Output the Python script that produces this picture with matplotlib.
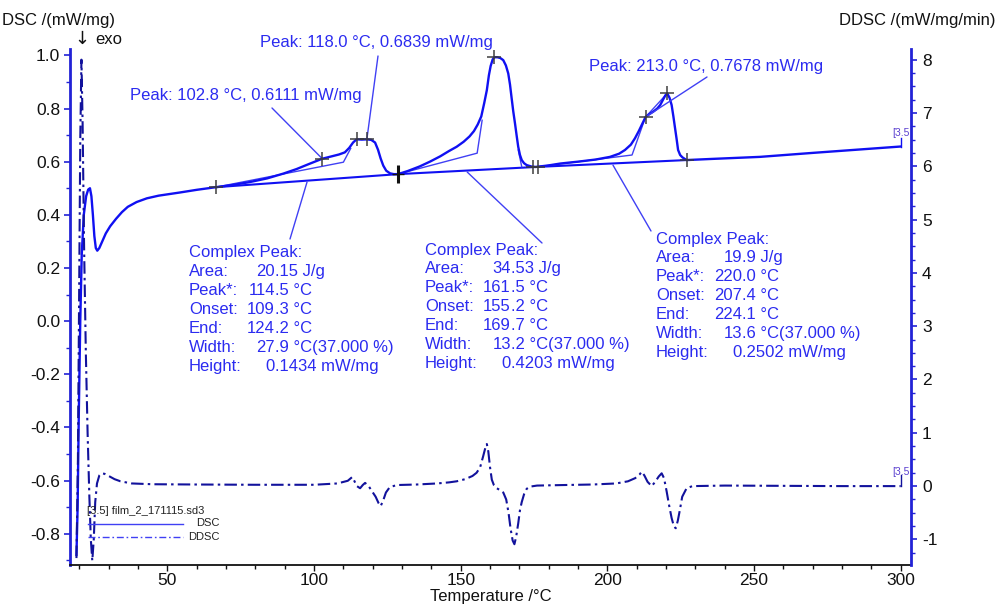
import matplotlib
matplotlib.use("Agg")
import matplotlib.pyplot as plt
from matplotlib.lines import Line2D
from matplotlib.ticker import MultipleLocator, FuncFormatter

plt.rcParams['font.family'] = ['Liberation Sans', 'DejaVu Sans']

# ---- measured curves -------------------------------------------------------
dsc_temp = [19.0, 19.4, 19.8, 20.3, 20.8, 21.5, 22.3, 23.0, 23.6, 24.1, 24.6, 25.1,
            25.6, 26.1, 26.8, 27.8, 29.0, 30.5, 32.5, 34.5, 36.5, 39.5, 43.0, 47.0,
            54.3, 60.0, 66.6, 72.0, 78.0, 84.0, 89.5, 94.0, 98.0, 102.8, 106.0, 108.5,
            110.5, 112.0, 113.3, 114.5, 116.3, 118.0, 119.5, 120.8, 121.8, 122.7, 123.6,
            124.6, 125.9, 127.2, 128.6, 132.0, 136.0, 139.5, 143.0, 146.0, 148.6, 151.0,
            153.0, 154.5, 155.8, 157.0, 158.0, 158.9, 159.6, 160.2, 160.9, 161.5, 162.5,
            163.5, 164.5, 165.4, 166.2, 166.8, 167.3, 167.9, 168.5, 169.1, 169.6, 170.2,
            170.8, 171.6, 172.5, 174.0, 175.6, 180.0, 184.0, 190.0, 196.0, 200.9, 204.0,
            206.0, 208.0, 209.4, 210.7, 211.7, 213.0, 214.3, 215.6, 217.0, 218.0, 219.0,
            219.8, 220.4, 221.2, 221.9, 222.5, 223.0, 223.6, 224.1, 224.8, 225.6, 227.0,
            235.0, 252.0, 270.0, 285.0, 300.0]
dsc_value = [-0.88, -0.70, -0.35, 0.00, 0.25, 0.40, 0.47, 0.495, 0.50, 0.47, 0.40, 0.32,
             0.275, 0.265, 0.275, 0.30, 0.33, 0.357, 0.385, 0.41, 0.43, 0.448, 0.462, 0.472,
             0.484, 0.494, 0.504, 0.512, 0.523, 0.537, 0.555, 0.572, 0.59, 0.6111, 0.62, 0.627,
             0.635, 0.652, 0.672, 0.684, 0.683, 0.6839, 0.682, 0.672, 0.645, 0.612, 0.585,
             0.566, 0.556, 0.553, 0.553, 0.565, 0.582, 0.60, 0.62, 0.64, 0.656, 0.675,
             0.695, 0.715, 0.74, 0.77, 0.82, 0.869, 0.925, 0.960, 0.985, 0.993, 0.993,
             0.99, 0.982, 0.962, 0.932, 0.89, 0.844, 0.79, 0.744, 0.695, 0.656, 0.625,
             0.606, 0.594, 0.587, 0.582, 0.58, 0.586, 0.593, 0.600, 0.608, 0.618, 0.63,
             0.644, 0.664, 0.688, 0.715, 0.738, 0.7678, 0.779, 0.788, 0.80, 0.813, 0.834,
             0.850, 0.857, 0.84, 0.813, 0.77, 0.731, 0.685, 0.644, 0.625, 0.616, 0.606,
             0.61, 0.618, 0.633, 0.645, 0.657]

ddsc_temp = [19.0, 19.5, 19.9, 20.3, 20.7, 21.1, 21.6, 22.2, 22.8, 23.4, 23.9, 24.4,
             24.9, 25.4, 26.0, 26.8, 27.6, 28.6, 30.0, 32.0, 34.0, 37.8, 45.0, 60.0,
             80.0, 100.0, 108.0, 111.5, 113.0, 113.7, 114.6, 115.7, 116.6, 117.4, 118.6,
             119.8, 121.0, 122.0, 122.7, 123.5, 124.5, 125.8, 128.2, 135.0, 142.0, 146.0,
             148.6, 151.5, 154.0, 155.4, 156.6, 157.6, 158.4, 158.9, 159.4, 160.0, 160.6,
             161.3, 162.3, 163.5, 164.5, 165.5, 166.3, 167.0, 167.7, 168.3, 168.9, 169.6,
             170.2, 170.8, 171.6, 172.5, 173.6, 176.0, 185.0, 195.0, 203.0, 207.0, 209.5,
             211.0, 211.7, 212.6, 213.7, 215.1, 216.3, 217.5, 218.5, 219.3, 220.2, 221.0,
             221.9, 222.7, 223.3, 224.0, 224.7, 225.5, 227.0, 229.0, 240.0, 260.0, 280.0,
             300.0]
ddsc_value = [-1.35, 0.5, 3.5, 6.5, 8.0, 6.8, 4.5, 2.5, 1.0, -0.2, -1.0, -1.4,
              -1.0, -0.3, 0.05, 0.2, 0.24, 0.23, 0.19, 0.13, 0.09, 0.05, 0.035, 0.03,
              0.025, 0.025, 0.05, 0.10, 0.17, 0.10, 0.0, -0.04, 0.02, 0.06, 0.0,
              -0.1, -0.2, -0.32, -0.375, -0.28, -0.12, -0.02, 0.02, 0.03, 0.05, 0.07,
              0.09, 0.13, 0.19, 0.25, 0.35, 0.55, 0.72, 0.79, 0.65, 0.35, 0.12,
              0.02, -0.04, -0.08, -0.12, -0.25, -0.5, -0.8, -1.02, -1.09, -0.95, -0.7,
              -0.45, -0.3, -0.15, -0.05, -0.01, 0.01, 0.02, 0.03, 0.05, 0.09, 0.15,
              0.22, 0.27, 0.2, 0.08, 0.0, 0.08, 0.18, 0.24, 0.15, -0.1, -0.35,
              -0.6, -0.76, -0.79, -0.65, -0.45, -0.2, -0.04, 0.0, 0.01, 0.005, 0.0,
              0.0]

# integration baselines of the three complex peaks (start / end points)
baseline_temp = [66.6, 128.6, 175.6, 227.0]
baseline_value = [0.504, 0.553, 0.58, 0.606]

# partial-area construction lines
partial1_temp = [66.6, 110.0, 112.5]
partial1_value = [0.504, 0.598, 0.650]
partial2_temp = [128.6, 155.6, 157.3]
partial2_value = [0.553, 0.632, 0.756]
partial2_end_temp = [169.6, 170.8]
partial2_end_value = [0.644, 0.581]
partial3_temp = [175.6, 208.4, 213.0, 220.4]
partial3_value = [0.58, 0.625, 0.7678, 0.857]

# evaluation markers
marker_temp = [66.6, 102.8, 114.5, 118.0, 161.5, 174.6, 176.5, 213.0, 220.4, 227.0]
marker_value = [0.504, 0.6111, 0.684, 0.6839, 0.993, 0.58, 0.581, 0.7678, 0.857, 0.606]
split_temp = [128.6]
split_value = [0.553]

# single-peak results
peak_temp = [102.8, 118.0, 213.0]
peak_value = [0.6111, 0.6839, 0.7678]

# complex-peak results
cp_area = ['20.15', '34.53', '19.9']
cp_peak = ['114.5', '161.5', '220.0']
cp_onset = ['109.3', '155.2', '207.4']
cp_end = ['124.2', '169.7', '224.1']
cp_width = ['27.9', '13.2', '13.6']
cp_height = ['0.1434', '0.4203', '0.2502']
cp_leader_temp = [97.6, 152.2, 201.9]
cp_leader_value = [0.523, 0.561, 0.587]

x_ticks = [50, 100, 150, 200, 250, 300]

# ---- styling ---------------------------------------------------------------
W, H = 997, 606
DSC_C = '#1010f2'
DDSC_C = '#12129c'
THIN_C = '#4040f4'
TEXT_C = '#2b2bf0'
SPINE_C = '#2222d6'


def fpx(x, y):
    """figure pixel (from top-left) -> figure fraction"""
    return x / W, 1 - y / H


fig = plt.figure(figsize=(W / 100, H / 100), dpi=100)
ax = fig.add_axes([70 / W, 1 - 565 / H, (911 - 70) / W, (565 - 49) / H])
ax2 = ax.twinx()

ax.set_xlim(16.8, 303.5)
ax.set_ylim(-0.918, 1.024)
ax2.set_ylim(-1.48, 8.2)

for a in (ax, ax2):
    a.spines['top'].set_visible(False)
    a.patch.set_visible(False)
ax.spines['right'].set_visible(False)
ax2.spines['left'].set_visible(False)
ax2.spines['bottom'].set_visible(False)
ax.spines['left'].set_color(SPINE_C)
ax.spines['left'].set_linewidth(2.0)
ax2.spines['right'].set_color(SPINE_C)
ax2.spines['right'].set_linewidth(2.0)
ax.spines['bottom'].set_color('#111111')
ax.spines['bottom'].set_linewidth(1.3)

ax.set_xticks(x_ticks)
ax.xaxis.set_minor_locator(MultipleLocator(10))
ax.yaxis.set_major_locator(MultipleLocator(0.2))
ax.yaxis.set_minor_locator(MultipleLocator(0.1))
ax.yaxis.set_major_formatter(FuncFormatter(lambda v, p: f'{v:.1f}'))
ax2.yaxis.set_major_locator(MultipleLocator(1))
ax2.yaxis.set_minor_locator(MultipleLocator(0.25))
ax2.yaxis.set_major_formatter(FuncFormatter(lambda v, p: f'{v:.0f}'))

ax.tick_params(axis='x', which='both', direction='out', colors='#111111',
               labelsize=12.5, pad=2)
ax.tick_params(axis='x', which='major', length=4, width=1)
ax.tick_params(axis='x', which='minor', length=3, width=1)
ax.tick_params(axis='y', which='both', direction='out', color=SPINE_C,
               labelcolor='#111111', labelsize=12.5, pad=3)
ax.tick_params(axis='y', which='major', length=4, width=1.2)
ax.tick_params(axis='y', which='minor', length=3, width=1)
ax2.tick_params(axis='y', which='both', direction='out', color=SPINE_C,
                labelcolor='#111111', labelsize=12.5, pad=4)
ax2.tick_params(axis='y', which='major', length=4, width=1.2)
ax2.tick_params(axis='y', which='minor', length=3, width=1)

# ---- curves ----------------------------------------------------------------
ax2.plot(ddsc_temp, ddsc_value, color=DDSC_C, lw=1.5, dashes=(6, 2, 1.2, 2),
         zorder=2)
ax.plot(dsc_temp, dsc_value, color=DSC_C, lw=1.7, zorder=4, solid_joinstyle='round')

# baselines and construction lines
ax.plot(baseline_temp, baseline_value, color=DSC_C, lw=1.5, zorder=3)
for xt, yv in [(partial1_temp, partial1_value), (partial2_temp, partial2_value),
               (partial2_end_temp, partial2_end_value), (partial3_temp, partial3_value)]:
    ax.plot(xt, yv, color=THIN_C, lw=1.0, zorder=3)

# curve end brackets
ax.plot([dsc_temp[-1], dsc_temp[-1]], [dsc_value[-1], dsc_value[-1] + 0.033],
        color=DSC_C, lw=1.0)
ax2.plot([ddsc_temp[-1], ddsc_temp[-1]], [ddsc_value[-1], ddsc_value[-1] + 0.2],
         color=DDSC_C, lw=1.0)

ax.plot(marker_temp, marker_value, ls='none', marker='+', ms=10, mew=1.2,
        color='#3a3a3a', alpha=0.9, zorder=6)
ax.plot(split_temp, split_value, ls='none', marker='|', ms=13, mew=2.2,
        color='#111111', zorder=6)
ax.plot(split_temp, split_value, ls='none', marker='_', ms=8, mew=1.0,
        color='#111111', zorder=6)

# ---- peak labels -----------------------------------------------------------
peak_label_pos = [(130, 95), (260, 42), (589, 67)]
peak_leader_start = [(272, 108), (378, 56), (707, 77)]
for t, v, (lx, ly), (sx, sy) in zip(peak_temp, peak_value, peak_label_pos,
                                    peak_leader_start):
    fig.text(*fpx(lx, ly), f'Peak: {t:.1f} °C, {v:.4f} mW/mg', color=TEXT_C,
             fontsize=12, ha='left', va='center')
    ax.annotate('', xy=(t, v), xytext=fpx(sx, sy), textcoords='figure fraction',
                arrowprops=dict(arrowstyle='-', color=THIN_C, lw=1.0,
                                shrinkA=0, shrinkB=0), zorder=5)

# ---- complex-peak tables ---------------------------------------------------
block_pos = [(189, 253), (425, 250), (656, 239)]
block_leader_end = [(290, 239), (542, 243), (651, 231)]
row_h = 18.9
dec_off = 86
for i, (bx, by) in enumerate(block_pos):
    fig.text(*fpx(bx, by), 'Complex Peak:', color=TEXT_C, fontsize=12,
             ha='left', va='center')
    rows = [('Area:', cp_area[i], ' J/g'),
            ('Peak*:', cp_peak[i], ' °C'),
            ('Onset:', cp_onset[i], ' °C'),
            ('End:', cp_end[i], ' °C'),
            ('Width:', cp_width[i], ' °C(37.000 %)'),
            ('Height:', cp_height[i], ' mW/mg')]
    for k, (name, num, unit) in enumerate(rows):
        yy = by + row_h * (k + 1)
        whole, frac = num.split('.')
        fig.text(*fpx(bx, yy), name, color=TEXT_C, fontsize=12, ha='left', va='center')
        fig.text(*fpx(bx + dec_off, yy), whole, color=TEXT_C, fontsize=12,
                 ha='right', va='center')
        fig.text(*fpx(bx + dec_off, yy), '.' + frac + unit, color=TEXT_C,
                 fontsize=12, ha='left', va='center')
    ax.annotate('', xy=(cp_leader_temp[i], cp_leader_value[i]),
                xytext=fpx(*block_leader_end[i]), textcoords='figure fraction',
                arrowprops=dict(arrowstyle='-', color=THIN_C, lw=1.0,
                                shrinkA=0, shrinkB=0), zorder=5)

# ---- axis titles -----------------------------------------------------------
fig.text(*fpx(2, 20), 'DSC /(mW/mg)', fontsize=12, color='#111111',
         ha='left', va='center')
fig.text(*fpx(74, 39), '↓', fontsize=13, color='#111111',
         family='DejaVu Sans', ha='left', va='center')
fig.text(*fpx(95, 40), 'exo', fontsize=12, color='#111111',
         ha='left', va='center')
fig.text(*fpx(995, 20), 'DDSC /(mW/mg/min)', fontsize=12, color='#111111',
         ha='right', va='center')
fig.text(*fpx(491, 597), 'Temperature /°C', fontsize=12, color='#111111',
         ha='center', va='center')

# segment tags at curve ends
for yy in (133, 472):
    fig.text(*fpx(892, yy), '[3.5', fontsize=7.5, color='#5b40d0',
             ha='left', va='center')

# ---- legend ----------------------------------------------------------------
fig.text(*fpx(87, 511), '[3.5] film_2_171115.sd3', fontsize=8, color='#222222',
         ha='left', va='center')
for yy, lab, style in [(523.5, 'DSC', dict(ls='-')),
                       (536.5, 'DDSC', dict(dashes=(5, 2, 1.2, 2)))]:
    x0, y0 = fpx(88, yy)
    x1, _ = fpx(183, yy)
    fig.add_artist(Line2D([x0, x1], [y0, y0], color=THIN_C, lw=1.0,
                          transform=fig.transFigure, **style))
    fig.text(*fpx(220, yy), lab, fontsize=8, color='#222222', ha='right', va='center')

fig.savefig('out.png', dpi=100)
